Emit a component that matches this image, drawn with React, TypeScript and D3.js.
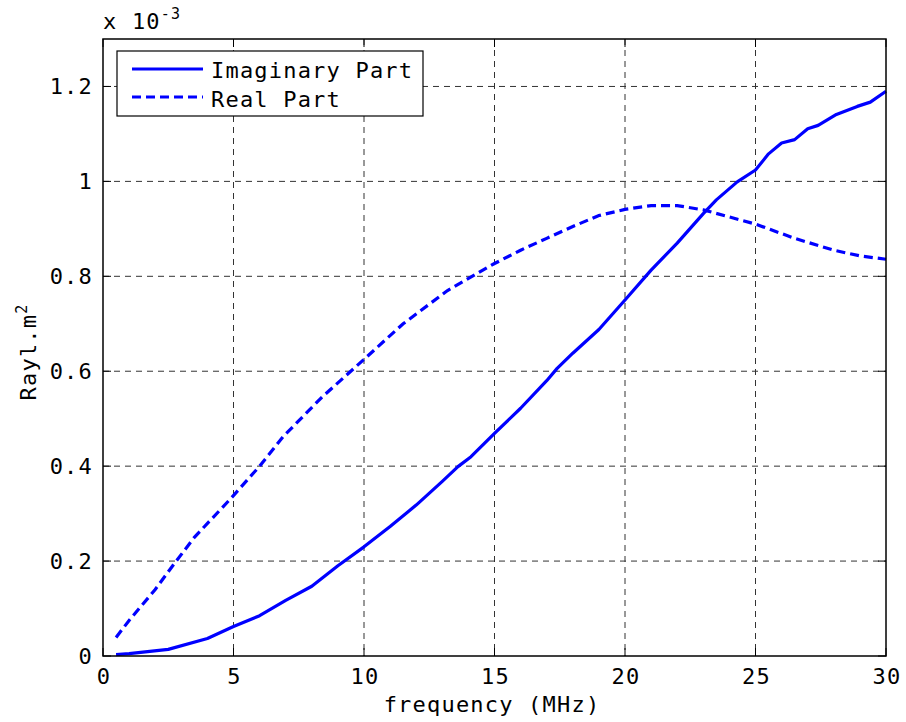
import React from "react";
import * as d3 from "d3";

const freqImag = [0.5, 1, 2.5, 4, 5, 6, 7, 8, 9, 10, 11, 12, 13, 13.6, 14.1, 15, 16, 17, 17.4, 18, 19, 20, 21, 22, 23, 23.5, 24.3, 25, 25.5, 26, 26.5, 27, 27.4, 28.1, 28.9, 29.4, 30];
const imagPart = [0.003, 0.005, 0.014, 0.037, 0.062, 0.085, 0.117, 0.147, 0.19, 0.23, 0.273, 0.318, 0.368, 0.399, 0.42, 0.469, 0.522, 0.58, 0.606, 0.638, 0.688, 0.75, 0.813, 0.87, 0.932, 0.961, 0.999, 1.024, 1.058, 1.081, 1.088, 1.111, 1.118, 1.141, 1.158, 1.167, 1.19];

const freqReal = [0.5, 1, 2, 2.6, 3.5, 4.9, 6, 6.9, 8.4, 10, 11.5, 13.2, 15, 16, 17, 18, 19, 20, 21, 22, 23, 24, 25, 26.5, 28, 29, 30];
const realPart = [0.039, 0.075, 0.14, 0.185, 0.25, 0.332, 0.4, 0.462, 0.546, 0.625, 0.7, 0.77, 0.827, 0.855, 0.88, 0.905, 0.928, 0.941, 0.949, 0.949, 0.94, 0.925, 0.91, 0.88, 0.855, 0.843, 0.836];

const xTicks = [0, 5, 10, 15, 20, 25, 30];
const yTicks = [0, 0.2, 0.4, 0.6, 0.8, 1, 1.2];
const legendLabels = ["Imaginary Part", "Real Part"];

const FONT = "'DejaVu Sans Mono', monospace";

export default function App() {
  const left = 103, right = 886, top = 39, bottom = 656;
  const x = d3.scaleLinear().domain([0, 30]).range([left, right]);
  const y = d3.scaleLinear().domain([0, 1.3]).range([bottom, top]);
  const line = d3.line<[number, number]>().x((d) => x(d[0])).y((d) => y(d[1]));
  const imagPts = freqImag.map((f, i) => [f, imagPart[i]] as [number, number]);
  const realPts = freqReal.map((f, i) => [f, realPart[i]] as [number, number]);
  const fmt = (v: number) => (v === 0 ? "0" : v === 1 ? "1" : v.toFixed(1));
  const tick = 8;
  const textStyle = { fontFamily: FONT, fontSize: 22, letterSpacing: 1.2, fill: "#000" } as any;

  return (
    <svg width={906} height={722} style={{ position: "absolute", left: 0, top: 0, background: "#fff" }}>
      <rect x={0} y={0} width={906} height={722} fill="#fff" />
      {/* grid */}
      {xTicks.slice(1, -1).map((t) => (
        <line key={"gx" + t} x1={x(t)} x2={x(t)} y1={top} y2={bottom} stroke="#333" strokeWidth={1} strokeDasharray="6,5" />
      ))}
      {yTicks.slice(1).map((t) => (
        <line key={"gy" + t} x1={left} x2={right} y1={y(t)} y2={y(t)} stroke="#333" strokeWidth={1} strokeDasharray="6,5" />
      ))}
      {/* ticks */}
      {xTicks.map((t) => (
        <g key={"tx" + t}>
          <line x1={x(t)} x2={x(t)} y1={bottom} y2={bottom - tick} stroke="#000" />
          <line x1={x(t)} x2={x(t)} y1={top} y2={top + tick} stroke="#000" />
          <text x={x(t) + 1} y={684} textAnchor="middle" style={textStyle}>{t}</text>
        </g>
      ))}
      {yTicks.map((t) => (
        <g key={"ty" + t}>
          <line x1={left} x2={left + tick} y1={y(t)} y2={y(t)} stroke="#000" />
          <line x1={right} x2={right - tick} y1={y(t)} y2={y(t)} stroke="#000" />
          <text x={93} y={y(t) + 8} textAnchor="end" style={textStyle}>{fmt(t)}</text>
        </g>
      ))}
      {/* curves */}
      <path d={line(imagPts) || ""} fill="none" stroke="#0000ff" strokeWidth={3.2} strokeLinejoin="round" />
      <path d={line(realPts) || ""} fill="none" stroke="#0000ff" strokeWidth={3.2} strokeDasharray="9,5" />
      {/* frame */}
      <rect x={left} y={top} width={right - left} height={bottom - top} fill="none" stroke="#000" strokeWidth={1.5} />
      {/* legend */}
      <rect x={117} y={51} width={306} height={65} fill="#fff" stroke="#000" strokeWidth={1.2} />
      <line x1={132} x2={203} y1={69} y2={69} stroke="#0000ff" strokeWidth={3.2} />
      <line x1={132} x2={203} y1={97} y2={97} stroke="#0000ff" strokeWidth={3.2} strokeDasharray="9,5" />
      <text x={211} y={78} style={textStyle}>{legendLabels[0]}</text>
      <text x={211} y={107} style={textStyle}>{legendLabels[1]}</text>
      {/* axis labels */}
      <text x={492} y={712} textAnchor="middle" style={textStyle}>frequency (MHz)</text>
      <text transform="translate(36,352) rotate(-90)" textAnchor="middle" style={textStyle}>
        Rayl.m<tspan dy={-9} fontSize={15}>2</tspan>
      </text>
      <text x={103} y={29} style={textStyle}>
        x 10<tspan dy={-10} fontSize={15}>-3</tspan>
      </text>
    </svg>
  );
}
